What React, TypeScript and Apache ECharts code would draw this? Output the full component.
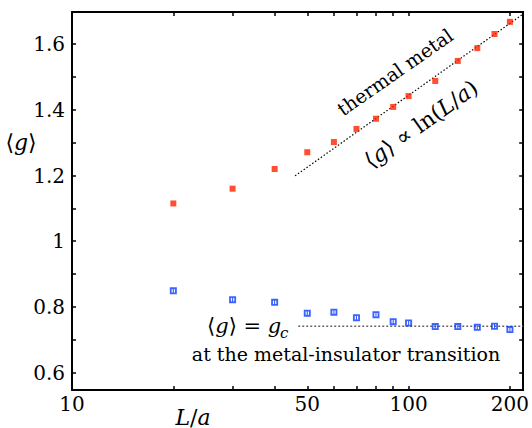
import React, { useEffect, useRef } from "react";
import * as echarts from "echarts";

const L_VALUES = [20, 30, 40, 50, 60, 70, 80, 90, 100, 120, 140, 160, 180, 200];
const G_METAL = [1.115, 1.16, 1.22, 1.271, 1.302, 1.342, 1.373, 1.409, 1.442, 1.488, 1.549, 1.588, 1.631, 1.668];
const G_CRIT = [0.849, 0.822, 0.814, 0.781, 0.784, 0.767, 0.776, 0.755, 0.751, 0.74, 0.74, 0.738, 0.741, 0.731];
const FIT_L = [46, 219];
const FIT_G = [1.199, 1.692];
const GC_L = [47, 219];
const GC_G = [0.741, 0.741];
const X_TICKS = [20, 30, 40, 50, 60, 70, 80, 90, 100, 200];
const X_LABELS = [10, 50, 100, 200];
const Y_TICKS = [0.6, 0.7, 0.8, 0.9, 1.0, 1.1, 1.2, 1.3, 1.4, 1.5, 1.6];
const Y_LABELS = [0.6, 0.8, 1.0, 1.2, 1.4, 1.6];

const FONT = "DejaVu Serif";
const FS = 19;
const lg = (v: number) => Math.log10(v);

const ERR_SQUARE =
  "path://M0,0H10V2.6H0Z M0,7.4H10V10H0Z M0,0H2.6V10H0Z M7.4,0H10V10H7.4Z M4.2,0H5.8V10H4.2Z";

export default function App() {
  const ref = useRef<HTMLDivElement>(null);
  useEffect(() => {
    if (!ref.current) return;
    const chart = echarts.init(ref.current, undefined, { renderer: "svg" });
    const axisLine = { show: true, lineStyle: { color: "#000", width: 2 } };
    const xTick = {
      show: true,
      inside: true,
      length: 4,
      customValues: X_TICKS.map(lg),
      lineStyle: { color: "#000", width: 1.5 },
    };
    const yTick = {
      show: true,
      inside: true,
      length: 4,
      customValues: Y_TICKS,
      lineStyle: { color: "#000", width: 1.5 },
    };
    const xMin = lg(10);
    const xMax = lg(219);
    const yMin = 0.547;
    const yMax = 1.698;
    const it = (size: number) => ({ fontStyle: "italic", fontFamily: FONT, fontSize: size, fill: "#000" });
    const plain = (size: number) => ({ fontFamily: FONT, fontSize: size, fill: "#000" });
    chart.setOption({
      animation: false,
      textStyle: { fontFamily: FONT },
      grid: { left: 72, right: 4, top: 12, bottom: 38 },
      xAxis: [
        {
          type: "value",
          position: "bottom",
          min: xMin,
          max: xMax,
          axisLine,
          axisTick: xTick,
          splitLine: { show: false },
          axisLabel: {
            customValues: X_LABELS.map(lg),
            formatter: (v: number) => String(Math.round(Math.pow(10, v))),
            fontFamily: FONT,
            fontSize: FS + 1,
            color: "#000",
            margin: 4,
          },
        },
        {
          type: "value",
          position: "top",
          min: xMin,
          max: xMax,
          axisLine,
          axisTick: xTick,
          splitLine: { show: false },
          axisLabel: { show: false },
        },
      ],
      yAxis: [
        {
          type: "value",
          position: "left",
          min: yMin,
          max: yMax,
          axisLine,
          axisTick: yTick,
          splitLine: { show: false },
          axisLabel: {
            customValues: Y_LABELS,
            formatter: (v: number) => String(+v.toFixed(1)),
            fontFamily: FONT,
            fontSize: FS + 1,
            color: "#000",
            margin: 7,
          },
        },
        {
          type: "value",
          position: "right",
          min: yMin,
          max: yMax,
          axisLine,
          axisTick: yTick,
          splitLine: { show: false },
          axisLabel: { show: false },
        },
      ],
      series: [
        {
          type: "line",
          data: FIT_L.map((l, i) => [lg(l), FIT_G[i]]),
          symbol: "none",
          lineStyle: { color: "#000", width: 1.2, type: [1.5, 2] },
          silent: true,
          z: 1,
        },
        {
          type: "line",
          data: GC_L.map((l, i) => [lg(l), GC_G[i]]),
          symbol: "none",
          lineStyle: { color: "#666", width: 1.6, type: [2, 2] },
          silent: true,
          z: 1,
        },
        {
          type: "scatter",
          data: L_VALUES.map((l, i) => [lg(l), G_METAL[i]]),
          symbol: "rect",
          symbolSize: 6,
          itemStyle: { color: "#ff2200" },
          z: 3,
        },
        {
          type: "scatter",
          data: L_VALUES.map((l, i) => [lg(l), G_CRIT[i]]),
          symbol: ERR_SQUARE,
          symbolSize: 7,
          itemStyle: { color: "#0a3cff" },
          z: 3,
        },
      ],
      graphic: [
        {
          type: "text",
          x: 395,
          y: 72,
          rotation: (35 * Math.PI) / 180,
          style: { ...plain(FS), text: "thermal metal", align: "center", verticalAlign: "middle" },
        },
        {
          type: "text",
          x: 421,
          y: 124,
          rotation: (35.5 * Math.PI) / 180,
          style: {
            ...plain(22),
            text: "⟨{i|g}⟩ ∝ ln({i|L}/{i|a})",
            rich: { i: it(22) },
            align: "center",
            verticalAlign: "middle",
          },
        },
        {
          type: "text",
          x: 207,
          y: 326,
          style: {
            ...plain(21),
            text: "⟨{i|g}⟩ = {i|g}",
            rich: { i: it(21) },
            align: "left",
            verticalAlign: "middle",
          },
        },
        {
          type: "text",
          x: 280,
          y: 333,
          style: { ...it(15), text: "c", align: "left", verticalAlign: "middle" },
        },
        {
          type: "text",
          x: 346,
          y: 354,
          style: {
            ...plain(FS),
            text: "at the metal-insulator transition",
            align: "center",
            verticalAlign: "middle",
          },
        },
        {
          type: "text",
          x: 21,
          y: 142,
          style: {
            ...plain(22),
            text: "⟨{i|g}⟩",
            rich: { i: it(22) },
            align: "center",
            verticalAlign: "middle",
          },
        },
        {
          type: "text",
          x: 193,
          y: 417,
          style: {
            ...plain(22),
            text: "{i|L}/{i|a}",
            rich: { i: it(22) },
            align: "center",
            verticalAlign: "middle",
          },
        },
      ],
    });
    return () => chart.dispose();
  }, []);
  return (
    <div
      ref={ref}
      style={{ position: "fixed", left: 0, top: 0, width: 532, height: 428, background: "#fff" }}
    />
  );
}
